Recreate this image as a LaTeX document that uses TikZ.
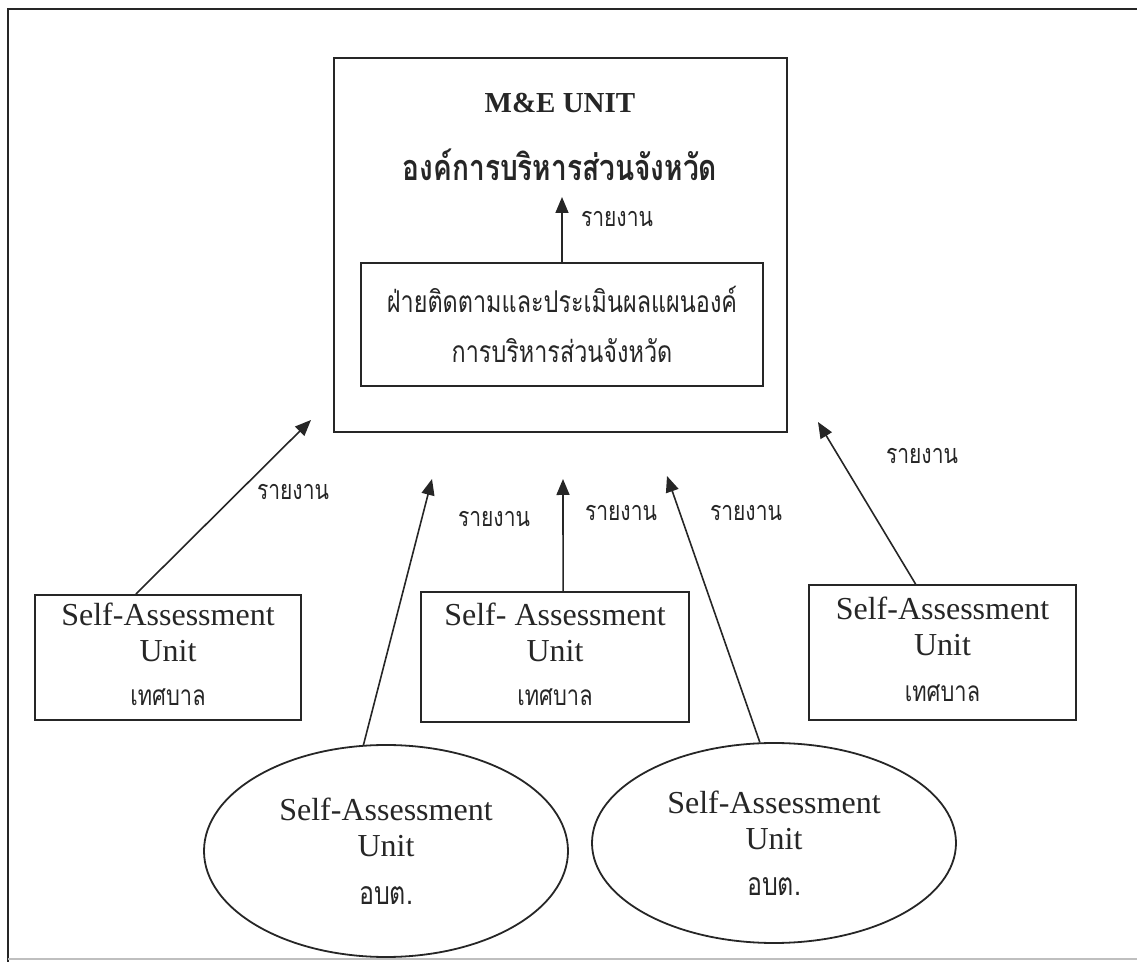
\documentclass[tikz,border=0pt]{standalone}
\usepackage{fontspec}
\setmainfont{Liberation Serif}
\newfontfamily\thai[Script=Thai,FakeStretch=0.78]{Loma}
\usetikzlibrary{arrows.meta,calc,shapes.geometric}

\begin{document}
\begin{tikzpicture}[x=0.5pt,y=-0.5pt,
  ink/.style={draw=black!85, line width=0.9pt},
  engtext/.style={font=\fontsize{16}{18}\selectfont, text=black!85},
  unitbox/.style={ink, engtext, rectangle, align=center, inner sep=0pt, text depth=3pt},
  unitoval/.style={ink, engtext, ellipse, align=center, inner sep=0pt},
  report/.style={draw=black!85, line width=0.8pt, -{Triangle[length=8pt,width=6.5pt]}},
  lbl/.style={font=\thai\fontsize{13.5}{15}\selectfont, text=black!85}
]
\useasboundingbox (0,0) rectangle (1137,962);

% page frame
\draw[black!85, line width=1pt] (1137,9) -- (8,9) -- (8,962);
\draw[black!25, line width=0.6pt] (8,959) -- (1137,959);

% provincial M&E unit
\node[ink, rectangle, minimum width=226.5pt, minimum height=187pt] (me) at (560.5,245) {};
\node[font=\bfseries\fontsize{14.5}{16}\selectfont, text=black!85] (metitle) at (560,103) {M\&E UNIT};
\node[font=\thai\bfseries\fontsize{18}{20}\selectfont, text=black!85] (pao) at (560,165) {องค์การบริหารส่วนจังหวัด};
\node[ink, rectangle, minimum width=201pt, minimum height=61.5pt, align=center, inner sep=0pt,
      font=\thai\fontsize{15}{25}\selectfont, text=black!85] (inner) at (562,324.5)
  {ฝ่ายติดตามและประเมินผลแผนองค์\\การบริหารส่วนจังหวัด};
\coordinate (tipIn) at (562,197);
\draw[report] (inner.north) -- (tipIn);
\node[lbl] (lbIn) at (617,219) {รายงาน};

% municipal self-assessment units
\node[unitbox, minimum width=133pt, minimum height=62.5pt] (lbox) at (168,657.5)
  {Self-Assessment\\Unit\\[4pt]{\thai\fontsize{14}{16}\selectfont เทศบาล}};
\node[unitbox, minimum width=134pt, minimum height=65pt] (cbox) at (555,657)
  {Self- Assessment\\Unit\\[4pt]{\thai\fontsize{14}{16}\selectfont เทศบาล}};
\node[unitbox, minimum width=133.5pt, minimum height=67.5pt] (rbox) at (942.5,652.5)
  {Self-Assessment\\Unit\\[5pt]{\thai\fontsize{14}{16}\selectfont เทศบาล}};

% subdistrict self-assessment units
\node[unitoval, minimum width=182pt, minimum height=106pt] (loval) at (386,851)
  {Self-Assessment\\Unit\\[6pt]{\thai\fontsize{16}{18}\selectfont อบต.}};
\node[unitoval, minimum width=182pt, minimum height=100pt] (roval) at (774,843)
  {Self-Assessment\\Unit\\[5pt]{\thai\fontsize{16}{18}\selectfont อบต.}};

% reporting lines
\coordinate (tipL) at (311,420);
\coordinate (tipLO) at (432,479);
\coordinate (tipC) at (563,479);
\coordinate (tipRO) at (667,476);
\coordinate (tipR) at (818,422);

\draw[report] ($(lbox.north west)!0.38!(lbox.north east)$) -- (tipL);
\draw[report] (loval.102) -- (tipLO);
\draw[report] ($(cbox.north west)!0.53!(cbox.north east)$) -- (tipC);
\draw[report] (roval.98) -- (tipRO);
\draw[report] ($(rbox.north west)!0.40!(rbox.north east)$) -- (tipR);

\node[lbl] (lbL) at (293,492) {รายงาน};
\node[lbl] (lbLO) at (494,519) {รายงาน};
\node[lbl] (lbC) at (621,513) {รายงาน};
\node[lbl] (lbRO) at (746,513) {รายงาน};
\node[lbl] (lbR) at (922,456) {รายงาน};
\end{tikzpicture}
\end{document}
